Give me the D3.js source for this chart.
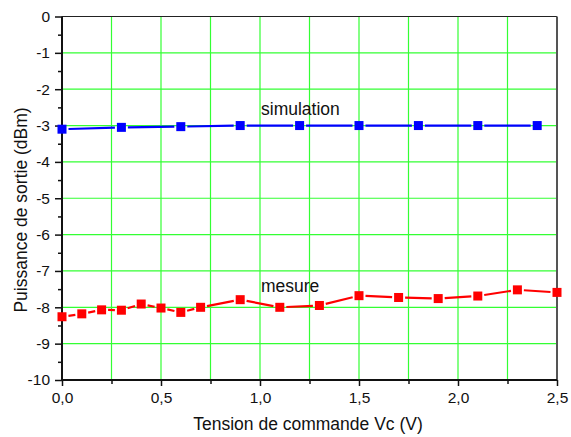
<!DOCTYPE html>
<html><head><meta charset="utf-8">
<script src="https://cdn.jsdelivr.net/npm/d3@7"></script>
<style>body{margin:0;background:#fff}svg{display:block}text{font-family:"Liberation Sans",Arial,sans-serif;fill:#111}</style>
</head><body><div id="chart"></div>
<script>
const simX = [0, 0.3, 0.6, 0.9, 1.2, 1.5, 1.8, 2.1, 2.4];
const simY = [-3.1, -3.05, -3.03, -3.0, -3.0, -3.0, -3.0, -3.0, -3.0];
const mesX = [0, 0.1, 0.2, 0.3, 0.4, 0.5, 0.6, 0.7, 0.9, 1.1, 1.3, 1.5, 1.7, 1.9, 2.1, 2.3, 2.5];
const mesY = [-8.26, -8.18, -8.07, -8.08, -7.91, -8.02, -8.14, -8.0, -7.79, -8.0, -7.95, -7.68, -7.73, -7.76, -7.69, -7.52, -7.59];
const xTicks = [0, 0.5, 1.0, 1.5, 2.0, 2.5];
const yTicks = [0, -1, -2, -3, -4, -5, -6, -7, -8, -9, -10];
const xTitle = "Tension de commande Vc (V)";
const yTitle = "Puissance de sortie (dBm)";
const labels = [{text: "simulation", x: 1.0, y: -2.71}, {text: "mesure", x: 1.0, y: -7.59}];

const W = 571, H = 437;
const svg = d3.select("#chart").append("svg").attr("width", W).attr("height", H);
const x = d3.scaleLinear().domain([0, 2.5]).range([62, 557]);
const y = d3.scaleLinear().domain([-10, 0]).range([380, 16.5]);

// grid
const g = svg.append("g");
g.selectAll("line.vg").data(d3.range(1, 10).map(i => i * 0.25)).join("line")
  .attr("x1", d => x(d)).attr("x2", d => x(d)).attr("y1", y(0)).attr("y2", y(-10))
  .attr("stroke", "#33ff33").attr("stroke-width", 1.2);
g.selectAll("line.hg").data(d3.range(-9, 0)).join("line")
  .attr("x1", x(0)).attr("x2", x(2.5)).attr("y1", d => y(d)).attr("y2", d => y(d))
  .attr("stroke", "#33ff33").attr("stroke-width", 1.2);

// frame top/right
svg.append("line").attr("x1", x(0)).attr("x2", x(2.5)).attr("y1", y(0)).attr("y2", y(0)).attr("stroke", "#222").attr("stroke-width", 1.2);
svg.append("line").attr("x1", x(2.5)).attr("x2", x(2.5)).attr("y1", y(0)).attr("y2", y(-10)).attr("stroke", "#555").attr("stroke-width", 2);

// axes
const xAxis = d3.axisBottom(x).tickValues(xTicks).tickSize(6).tickPadding(6)
  .tickFormat(d => d3.format(".1f")(d).replace(".", ","));
const xa = svg.append("g").attr("transform", `translate(0,${y(-10)})`).call(xAxis);
const xMinor = d3.axisBottom(x).tickValues(d3.range(0, 5).map(i => 0.25 + i * 0.5)).tickSize(4).tickFormat("");
svg.append("g").attr("transform", `translate(0,${y(-10)})`).call(xMinor).select(".domain").remove();

const yAxis = d3.axisLeft(y).tickValues(yTicks).tickSize(7).tickPadding(5).tickFormat(d => String(d));
const ya = svg.append("g").attr("transform", `translate(${x(0)},0)`).call(yAxis);
const yMinor = d3.axisLeft(y).tickValues(d3.range(0, 10).map(i => -0.5 - i)).tickSize(4).tickFormat("");
svg.append("g").attr("transform", `translate(${x(0)},0)`).call(yMinor).select(".domain").remove();

svg.selectAll(".domain").attr("stroke", "#111").attr("stroke-width", 2);
svg.selectAll(".tick line").attr("stroke", "#111").attr("stroke-width", 1.5);
xa.selectAll("text").attr("font-size", 15.5).attr("font-family", "Liberation Sans, Arial, sans-serif").attr("fill", "#111");
ya.selectAll("text").attr("font-size", 15.5).attr("font-family", "Liberation Sans, Arial, sans-serif").attr("fill", "#111");
xa.select(".domain").attr("d", `M${x(0)},0H${x(2.5)}`);
ya.select(".domain").attr("d", `M0,${y(-10)}V${y(0)}`);

// series
function drawSeries(xs, ys, color) {
  const pts = xs.map((d, i) => [x(d), y(ys[i])]);
  const gap = 6.5;
  const segs = d3.pairs(pts).map(([a, b]) => {
    const dx = b[0] - a[0], dy = b[1] - a[1], L = Math.hypot(dx, dy);
    const ux = dx / L, uy = dy / L;
    return [[a[0] + ux * gap, a[1] + uy * gap], [b[0] - ux * gap, b[1] - uy * gap]];
  });
  svg.append("g").selectAll("line").data(segs).join("line")
    .attr("x1", d => d[0][0]).attr("y1", d => d[0][1]).attr("x2", d => d[1][0]).attr("y2", d => d[1][1])
    .attr("stroke", color).attr("stroke-width", 2.2);
  const s = 9;
  svg.append("g").selectAll("rect").data(pts).join("rect")
    .attr("x", d => d[0] - s / 2).attr("y", d => d[1] - s / 2).attr("width", s).attr("height", s)
    .attr("fill", color);
}
drawSeries(simX, simY, "#0000ff");
drawSeries(mesX, mesY, "#ff0000");

// annotations
svg.selectAll("text.lab").data(labels).join("text").attr("class", "lab")
  .attr("x", d => x(d.x) + 1).attr("y", d => y(d.y)).attr("font-size", 17.5).text(d => d.text);

// titles
svg.append("text").attr("x", 308).attr("y", 430).attr("text-anchor", "middle").attr("font-size", 17.5).text(xTitle);
svg.append("text").attr("transform", `translate(27,210) rotate(-90)`).attr("text-anchor", "middle").attr("font-size", 17.5).text(yTitle);
</script></body></html>
